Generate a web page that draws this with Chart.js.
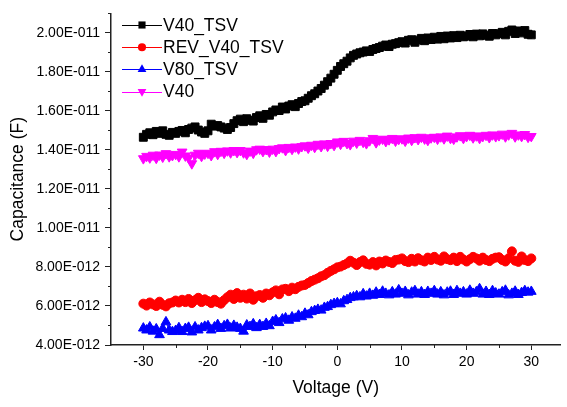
<!DOCTYPE html>
<html><head><meta charset="utf-8">
<script src="https://cdn.jsdelivr.net/npm/chart.js@4"></script>
<style>html,body{margin:0;padding:0;background:#fff;overflow:hidden}canvas{display:block}</style>
</head><body>
<canvas id="c" width="567" height="407"></canvas>
<script>
// Voltage (V)
const voltage = [-30,-29.5,-29,-28.5,-28,-27.5,-27,-26.5,-26,-25.5,
-25,-24.5,-24,-23.5,-23,-22.5,-22,-21.5,-21,-20.5,
-20,-19.5,-19,-18.5,-18,-17.5,-17,-16.5,-16,-15.5,
-15,-14.5,-14,-13.5,-13,-12.5,-12,-11.5,-11,-10.5,
-10,-9.5,-9,-8.5,-8,-7.5,-7,-6.5,-6,-5.5,
-5,-4.5,-4,-3.5,-3,-2.5,-2,-1.5,-1,-0.5,
0,0.5,1,1.5,2,2.5,3,3.5,4,4.5,
5,5.5,6,6.5,7,7.5,8,8.5,9,9.5,
10,10.5,11,11.5,12,12.5,13,13.5,14,14.5,
15,15.5,16,16.5,17,17.5,18,18.5,19,19.5,
20,20.5,21,21.5,22,22.5,23,23.5,24,24.5,
25,25.5,26,26.5,27,27.5,28,28.5,29,29.5,
30];
// Capacitance in pF (x1E-12 F)
const v40tsv = [14.65,14.80,14.88,14.78,14.95,14.85,14.98,14.80,14.75,14.90,
14.85,14.95,15.00,14.88,15.05,15.12,15.18,15.02,14.92,14.85,
14.98,15.32,15.22,15.25,15.18,15.12,15.05,15.15,15.35,15.50,
15.58,15.45,15.60,15.52,15.48,15.66,15.75,15.62,15.82,15.78,
15.95,16.05,16.02,16.20,16.10,16.25,16.32,16.22,16.38,16.48,
16.52,16.65,16.78,16.88,17.02,17.15,17.32,17.50,17.68,17.88,
18.08,18.28,18.42,18.55,18.72,18.85,18.92,18.98,19.02,19.08,
19.05,19.15,19.20,19.25,19.32,19.38,19.30,19.42,19.45,19.50,
19.55,19.48,19.62,19.65,19.52,19.63,19.72,19.60,19.74,19.66,
19.78,19.68,19.82,19.70,19.84,19.74,19.86,19.76,19.88,19.80,
19.84,19.92,19.80,19.94,19.85,19.95,19.88,19.83,19.97,19.90,
19.96,20.03,19.90,20.08,20.15,19.97,20.10,20.00,20.12,19.93,
19.90];
const revV40tsv = [6.12,6.02,6.18,6.08,6.00,6.22,6.06,5.98,6.14,6.18,
6.28,6.18,6.32,6.20,6.36,6.15,6.30,6.42,6.20,6.34,
6.25,6.15,6.32,6.20,6.12,6.30,6.45,6.58,6.36,6.66,
6.42,6.58,6.38,6.64,6.32,6.50,6.56,6.42,6.64,6.55,
6.70,6.80,6.60,6.85,6.88,6.76,6.94,6.86,6.98,7.05,
7.08,7.18,7.28,7.35,7.42,7.52,7.58,7.70,7.80,7.88,
7.98,8.02,8.10,8.18,8.32,8.22,8.10,8.25,8.34,8.16,
8.12,8.25,8.08,8.28,8.18,8.33,8.26,8.20,8.36,8.38,
8.44,8.30,8.25,8.42,8.28,8.45,8.34,8.28,8.48,8.36,
8.52,8.38,8.32,8.54,8.40,8.35,8.48,8.30,8.52,8.38,
8.28,8.40,8.52,8.44,8.32,8.48,8.36,8.30,8.42,8.48,
8.50,8.36,8.28,8.45,8.80,8.32,8.26,8.54,8.36,8.30,
8.44];
const v80tsv = [4.86,4.76,4.92,4.70,4.82,4.52,4.84,5.18,4.76,4.68,
4.74,4.88,4.68,4.84,4.90,4.66,4.92,4.76,4.88,4.95,
4.98,4.76,4.92,5.04,4.84,4.98,5.05,4.86,5.00,4.90,
4.84,4.70,5.02,4.94,5.08,4.88,5.04,4.94,5.10,4.98,
5.20,5.28,5.14,5.33,5.38,5.26,5.43,5.36,5.52,5.44,
5.62,5.54,5.70,5.76,5.82,5.78,5.92,5.96,6.06,6.12,
6.16,6.10,6.26,6.32,6.42,6.46,6.52,6.46,6.62,6.50,
6.64,6.54,6.70,6.58,6.75,6.64,6.56,6.72,6.60,6.82,
6.64,6.74,6.56,6.70,6.78,6.60,6.72,6.58,6.74,6.64,
6.78,6.60,6.72,6.56,6.70,6.75,6.58,6.78,6.64,6.72,
6.60,6.80,6.64,6.72,6.88,6.60,6.74,6.58,6.78,6.66,
6.60,6.72,6.80,6.56,6.64,6.75,6.58,6.68,6.78,6.70,
6.74];
const v40 = [13.56,13.68,13.60,13.74,13.58,13.75,13.64,13.82,13.66,13.72,
13.78,13.66,13.90,13.70,13.60,13.30,13.74,13.84,13.68,13.80,
13.84,13.72,13.92,13.78,13.94,13.84,13.96,13.86,13.98,13.88,
13.98,13.86,13.78,13.95,13.84,14.02,14.05,13.93,14.03,13.90,
14.05,13.93,14.08,14.12,13.98,14.14,14.04,14.16,14.06,14.18,
14.22,14.10,14.25,14.14,14.30,14.18,14.32,14.20,14.34,14.24,
14.42,14.30,14.45,14.34,14.28,14.46,14.36,14.50,14.40,14.33,
14.48,14.60,14.38,14.52,14.56,14.44,14.53,14.60,14.46,14.55,
14.58,14.46,14.62,14.50,14.64,14.54,14.66,14.57,14.50,14.63,
14.66,14.56,14.68,14.58,14.72,14.60,14.56,14.68,14.74,14.60,
14.70,14.76,14.63,14.73,14.60,14.70,14.76,14.64,14.78,14.69,
14.74,14.82,14.68,14.78,14.86,14.68,14.78,14.70,14.80,14.66,
14.70];

const seriesNames = ['V40_TSV','REV_V40_TSV','V80_TSV','V40'];
const seriesColors = ['#000000','#ff0000','#0000ff','#ff00ff'];
const xTickValues = [-30,-20,-10,0,10,20,30];
const xMinorValues = [-25,-15,-5,5,15,25];
const yTickValues = [4,6,8,10,12,14,16,18,20];
const yTickLabels = ['4.00E-012','6.00E-012','8.00E-012','1.00E-011','1.20E-011','1.40E-011','1.60E-011','1.80E-011','2.00E-011'];
const yMinorValues = [5,7,9,11,13,15,17,19,21];

const FONT = '"Liberation Sans", Arial, sans-serif';
const AXIS = '#222222';

function pts(ys){ return voltage.map((v,i)=>({x:v,y:ys[i]})); }

const markers = [
  {style:'rect', r:5.6, rot:0},
  {style:'circle', r:4.5, rot:0},
  {style:'triangle', r:5.6, rot:0},
  {style:'triangle', r:5.6, rot:180}
];
const allSeries = [v40tsv, revV40tsv, v80tsv, v40];

const datasets = allSeries.map((s,i)=>({
  label: seriesNames[i],
  data: pts(s),
  borderColor: seriesColors[i],
  backgroundColor: seriesColors[i],
  borderWidth: 1,
  pointStyle: markers[i].style,
  pointRotation: markers[i].rot,
  pointRadius: markers[i].r,
  pointBorderWidth: 1,
  pointBorderColor: seriesColors[i],
  pointBackgroundColor: seriesColors[i],
  showLine: true,
  tension: 0,
  order: 4 - i
}));

const extras = {
  id:'extras',
  afterDraw(chart){
    const ctx = chart.ctx, xs = chart.scales.x, ys = chart.scales.y;
    ctx.save();
    ctx.strokeStyle = AXIS; ctx.lineWidth = 1;
    yMinorValues.forEach(v=>{
      const py = Math.round(ys.getPixelForValue(v))+0.5;
      ctx.beginPath(); ctx.moveTo(ys.right-3, py); ctx.lineTo(ys.right, py); ctx.stroke();
    });
    xMinorValues.forEach(v=>{
      const px = Math.round(xs.getPixelForValue(v))+0.5;
      ctx.beginPath(); ctx.moveTo(px, xs.top); ctx.lineTo(px, xs.top+3); ctx.stroke();
    });
    // legend
    const lx0 = chart.chartArea.left + 11, lx1 = lx0 + 40, ly0 = 25, dy = 22.2;
    chart.data.datasets.forEach((d,i)=>{
      const y = ly0 + dy*i;
      ctx.strokeStyle = d.borderColor; ctx.lineWidth = 1;
      ctx.beginPath(); ctx.moveTo(lx0, Math.round(y)+0.5); ctx.lineTo(lx1, Math.round(y)+0.5); ctx.stroke();
      ctx.fillStyle = d.borderColor; ctx.strokeStyle = d.borderColor;
      Chart.helpers.drawPoint(ctx, {pointStyle:d.pointStyle, rotation:d.pointRotation, radius:d.pointRadius*0.9, borderWidth:0}, (lx0+lx1)/2, y);
      ctx.fillStyle = '#000';
      ctx.font = '17.5px ' + FONT;
      ctx.textBaseline = 'middle'; ctx.textAlign = 'left';
      ctx.fillText(d.label, lx1 + 1, y + 1);
    });
    ctx.restore();
  }
};

new Chart(document.getElementById('c'), {
  type: 'scatter',
  data: { datasets },
  options: {
    responsive: false,
    animation: false,
    devicePixelRatio: 1,
    layout: { padding: { top: 8, right: 0, left: 0, bottom: 0 } },
    plugins: { legend: { display: false }, tooltip: { enabled: false } },
    scales: {
      x: {
        type: 'linear', min: -35, max: 34.5,
        afterFit: s => { s.height = 62; },
        afterBuildTicks: s => { s.ticks = xTickValues.map(v=>({value:v})); },
        grid: { drawOnChartArea: false, tickLength: 5, color: AXIS, tickWidth: 1 },
        border: { display: true, color: AXIS, width: 1.5 },
        ticks: { color: '#000', font: { family: FONT, size: 14 }, padding: 4, maxRotation: 0,
                 callback: v => String(v) },
        title: { display: true, text: 'Voltage (V)', color: '#000', font: { family: FONT, size: 17.5 }, padding: { top: 0, bottom: 8.5 } }
      },
      y: {
        type: 'linear', min: 4, max: 21,
        afterFit: s => { s.width = 111; },
        afterBuildTicks: s => { s.ticks = yTickValues.map(v=>({value:v})); },
        grid: { drawOnChartArea: false, tickLength: 6, color: AXIS, tickWidth: 1 },
        border: { display: true, color: AXIS, width: 1.5 },
        ticks: { color: '#000', font: { family: FONT, size: 14 }, padding: 5,
                 callback: (v) => { const k = yTickValues.indexOf(v); return k >= 0 ? yTickLabels[k] : ''; } },
        title: { display: true, text: 'Capacitance (F)', color: '#000', font: { family: FONT, size: 17.5 }, padding: { top: 8, bottom: 0 } }
      }
    }
  },
  plugins: [extras]
});
</script>
</body></html>
